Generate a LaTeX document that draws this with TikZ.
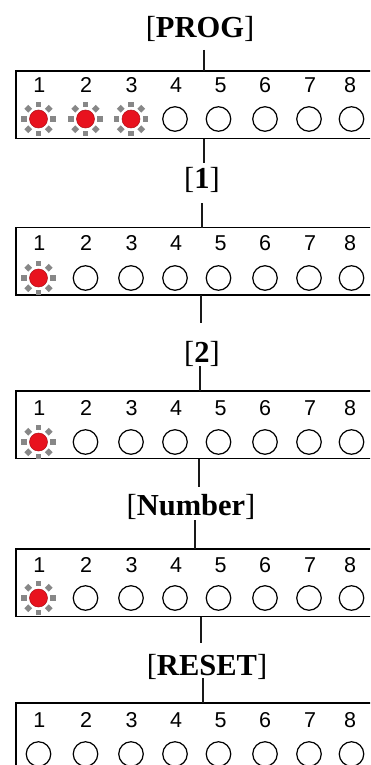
\documentclass[tikz,border=0pt]{standalone}
\usepackage{fontspec}
\setmainfont{Liberation Serif}
\newfontfamily\numfont{Liberation Sans}
\definecolor{ledred}{RGB}{232,18,30}
\definecolor{ledgray}{RGB}{135,135,135}
\newcommand\ledrow[5]{%
  % #1 name, #2 top y, #3 number y, #4 circle y, #5 lit count
  \node[panel] (#1) at (16,#2) {};
  \foreach \nx/\cx [count=\i] in {39.3/38.5,86/85.5,131.7/131,176/175,220.7/218.5,265/265,310/309,350/351.5}{
    \node[num] (#1n\i) at (\nx,#3) {\i};
    \ifnum\i>#5\relax
      \node[ledoff] (#1c\i) at (\cx,#4) {};
    \else
      \node[ledon] (#1c\i) at (\cx,#4) {};
      \foreach \a in {0,45,...,315}{
        \node[ray, rotate=\a] at ($(#1c\i)+(\a:14.5)$) {};
      }
    \fi
  }
}
\usetikzlibrary{calc}
\begin{document}
\begin{tikzpicture}[x=1pt,y=-1pt,
  panel/.style={draw=black, line width=1.6pt, minimum width=390pt, minimum height=67.5pt, anchor=north west, inner sep=0, outer sep=0},
  conn/.style={line width=2.8pt, draw=black!90},
  lbl/.style={font=\fontsize{30.5}{30.5}\selectfont, inner sep=0, anchor=base},
  num/.style={font=\numfont\fontsize{21.5}{21.5}\selectfont, inner sep=0},
  ledoff/.style={circle, draw=black, line width=1.2pt, fill=white, minimum size=24.5pt, inner sep=0},
  ledon/.style={circle, fill=ledred, draw=ledred!75!black, line width=0.5pt, minimum size=18pt, inner sep=0},
  ray/.style={fill=ledgray, draw=none, minimum size=5.6pt, inner sep=0, rectangle}
]
\clip (0,0) rectangle (370,765);
\fill[white] (0,0) rectangle (370,765);

\node[lbl] (lprog) at (200,38) {[\textbf{PROG}]};
\node[lbl] (lone) at (202,188) {[\textbf{1}]};
\node[lbl] (ltwo) at (202,362) {[\textbf{2}]};
\node[lbl] (lnum) at (191,515) {[\textbf{Number}]};
\node[lbl] (lreset) at (207,675) {[\textbf{RESET}]};

\ledrow{box1}{71}{85}{119}{3}
\ledrow{box2}{227.5}{243}{278}{1}
\ledrow{box3}{391}{408}{442}{1}
\ledrow{box4}{549}{565}{598}{1}
\ledrow{box5}{703}{720}{754}{0}

\coordinate (k0) at (204,50);
\coordinate (k1) at (204,163);
\coordinate (k2) at (202,203);
\coordinate (k3) at (201,323);
\coordinate (k4) at (200,366);
\coordinate (k5) at (199,487);
\coordinate (k6) at (195,520);
\coordinate (k7) at (201,643);
\coordinate (k8) at (203,678);

\draw[conn] (k0) -- (k0 |- box1.north);
\draw[conn] (k1 |- box1.south) -- (k1);
\draw[conn] (k2) -- (k2 |- box2.north);
\draw[conn] (k3 |- box2.south) -- (k3);
\draw[conn] (k4) -- (k4 |- box3.north);
\draw[conn] (k5 |- box3.south) -- (k5);
\draw[conn] (k6) -- (k6 |- box4.north);
\draw[conn] (k7 |- box4.south) -- (k7);
\draw[conn] (k8) -- (k8 |- box5.north);
\end{tikzpicture}
\end{document}
